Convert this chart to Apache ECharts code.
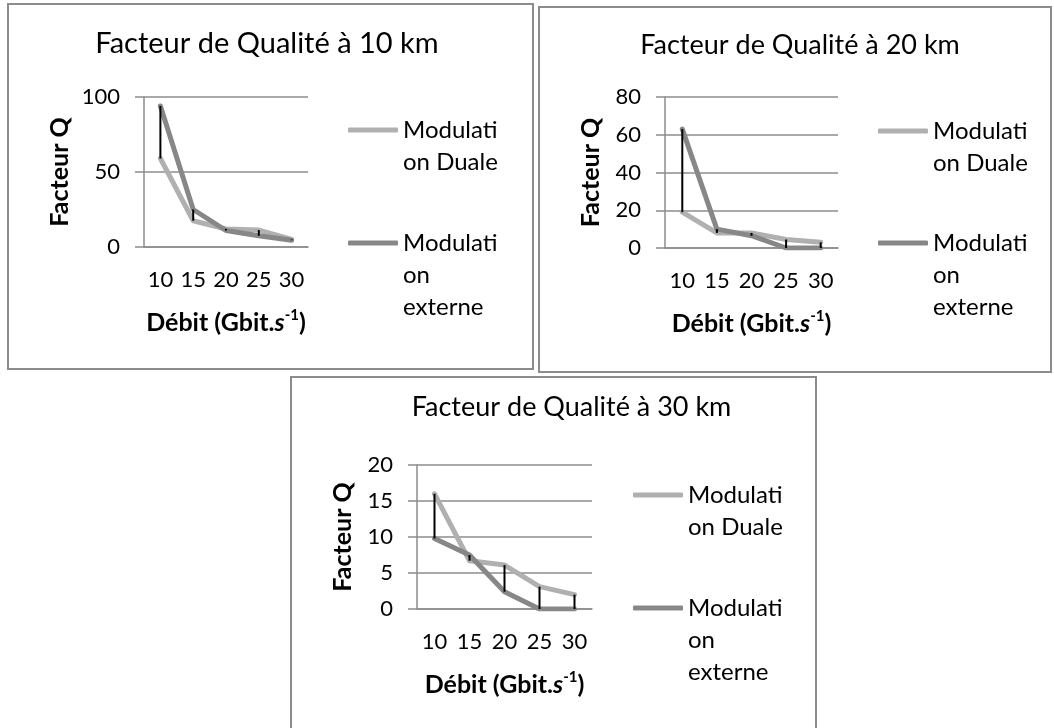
<!DOCTYPE html>
<html>
<head>
<meta charset="utf-8">
<script src="https://cdn.jsdelivr.net/npm/echarts@6/dist/echarts.min.js"></script>
<style>
html,body{margin:0;padding:0;background:#fff;width:1054px;height:728px;overflow:hidden;position:relative;}
.box{position:absolute;border:2px solid #8c8c8c;box-sizing:border-box;background:#fff;}
.chart{position:absolute;}
</style>
</head>
<body>
<div class="box" style="left:7px;top:3px;width:527px;height:367px;"></div>
<div class="box" style="left:538px;top:6px;width:514px;height:367px;"></div>
<div class="box" style="left:290px;top:376px;width:527px;height:354px;"></div>
<div id="c1" class="chart" style="left:7px;top:3px;width:520px;height:366px;"></div>
<div id="c2" class="chart" style="left:539px;top:7px;width:522px;height:365px;"></div>
<div id="c3" class="chart" style="left:327px;top:377px;width:489px;height:350px;"></div>
<script>
// ---- data ----
const categories = ['10', '15', '20', '25', '30'];
const seriesNames = ['Modulation Duale', 'Modulation externe'];
const titles = ['Facteur de Qualité à 10 km', 'Facteur de Qualité à 20 km', 'Facteur de Qualité à 30 km'];
const duale10 = [59, 17.5, 12, 11.3, 5];
const externe10 = [94, 25, 11, 7.5, 4.5];
const duale20 = [19, 8, 8, 4.5, 3];
const externe20 = [63, 10, 6.5, 0, 0];
const duale30 = [16, 6.7, 6.1, 3.1, 2];
const externe30 = [9.8, 7.5, 2.4, 0, 0];
const yMax = [100, 80, 20];
const yInterval = [50, 20, 5];
const yAxisName = 'Facteur Q';

const FONT = 'Lato';
const GRID_COLOR = '#8c8c8c';
const LIGHT = '#b0b0b0';
const DARK = '#878787';

const legendText = {
  'Modulation Duale': '\nModulati\non Duale',
  'Modulation externe': '\n\nModulati\non\nexterne'
};

function makeOption(cfg) {
  const hl = categories.map((c, i) => [i, cfg.duale[i], cfg.externe[i]]);
  return {
    animation: false,
    title: {
      text: cfg.title,
      left: 'center',
      top: cfg.titleTop,
      padding: 0,
      textStyle: { fontFamily: FONT, fontWeight: 'normal', fontSize: cfg.titleSize, color: '#000' }
    },
    legend: [0, 1].map(k => ({
      data: [seriesNames[k]],
      left: cfg.legendLeft,
      top: cfg.legendTop[k],
      padding: 0,
      orient: 'vertical',
      itemWidth: 50,
      itemHeight: 5,
      icon: 'roundRect',
      selectedMode: false,
      formatter: n => legendText[n],
      textStyle: { fontFamily: FONT, fontSize: 24, lineHeight: 32, color: '#000' }
    })),
    grid: { left: cfg.grid[0], top: cfg.grid[1], width: cfg.grid[2], height: cfg.grid[3] },
    xAxis: {
      type: 'category',
      data: categories,
      boundaryGap: true,
      axisLine: { show: true, lineStyle: { color: GRID_COLOR, width: 1.5 } },
      axisTick: { show: false },
      axisLabel: { fontFamily: FONT, fontSize: 22, color: '#000', margin: 22, interval: 0, hideOverlap: false },
      name: '{b|Débit (Gbit.}{i|s}{sup|-1}{b|)}',
      nameLocation: 'middle',
      nameGap: 61,
      nameTextStyle: {
        rich: {
          b: { fontFamily: FONT, fontWeight: 'bold', fontSize: 25, color: '#000', lineHeight: 30 },
          i: { fontFamily: FONT, fontWeight: 'bold', fontStyle: 'italic', fontSize: 25, color: '#000', lineHeight: 30 },
          sup: { fontFamily: FONT, fontWeight: 'bold', fontSize: 15, color: '#000', verticalAlign: 'top', lineHeight: 30 }
        }
      }
    },
    yAxis: {
      type: 'value',
      min: 0,
      max: cfg.yMax,
      interval: cfg.yInterval,
      axisLine: { show: true, lineStyle: { color: GRID_COLOR, width: 1.5 } },
      axisTick: { show: true, inside: false, length: 9, lineStyle: { color: GRID_COLOR, width: 1.5 } },
      splitLine: { show: true, lineStyle: { color: GRID_COLOR, width: 1.5 } },
      axisLabel: { fontFamily: FONT, fontSize: 22, color: '#000', margin: 24 },
      name: yAxisName,
      nameLocation: 'middle',
      nameGap: cfg.yNameGap,
      nameRotate: 90,
      nameTextStyle: { fontFamily: FONT, fontWeight: 'bold', fontSize: 25, color: '#000' }
    },
    series: [
      {
        name: seriesNames[0], type: 'line', data: cfg.duale, showSymbol: false, symbol: 'none',
        color: LIGHT, lineStyle: { width: 5, color: LIGHT, cap: 'round', join: 'round' }, z: 2
      },
      {
        name: seriesNames[1], type: 'line', data: cfg.externe, showSymbol: false, symbol: 'none',
        color: DARK, lineStyle: { width: 5, color: DARK, cap: 'round', join: 'round' }, z: 3
      },
      {
        name: 'hl', type: 'custom', data: hl, z: 4,
        renderItem: function (params, api) {
          const p1 = api.coord([api.value(0), api.value(1)]);
          const p2 = api.coord([api.value(0), api.value(2)]);
          return { type: 'line', shape: { x1: p1[0], y1: p1[1], x2: p2[0], y2: p2[1] }, style: { stroke: '#000', lineWidth: 2 } };
        }
      }
    ]
  };
}

const cfgs = [
  { el: 'c1', title: titles[0], titleSize: 29, titleTop: 26, duale: duale10, externe: externe10, yMax: yMax[0], yInterval: yInterval[0],
    grid: [137, 94, 164, 150], legendLeft: 341, legendTop: [79, 160], yNameGap: 72 },
  { el: 'c2', title: titles[1], titleSize: 27, titleTop: 25, duale: duale20, externe: externe20, yMax: yMax[1], yInterval: yInterval[1],
    grid: [126, 90, 173, 151], legendLeft: 339, legendTop: [76, 156], yNameGap: 62 },
  { el: 'c3', title: titles[2], titleSize: 27, titleTop: 17, duale: duale30, externe: externe30, yMax: yMax[2], yInterval: yInterval[2],
    grid: [90, 88, 175, 144], legendLeft: 306, legendTop: [70, 151], yNameGap: 62 }
];

cfgs.forEach(cfg => {
  const chart = echarts.init(document.getElementById(cfg.el), null, { renderer: 'canvas' });
  chart.setOption(makeOption(cfg));
});
</script>
</body>
</html>
